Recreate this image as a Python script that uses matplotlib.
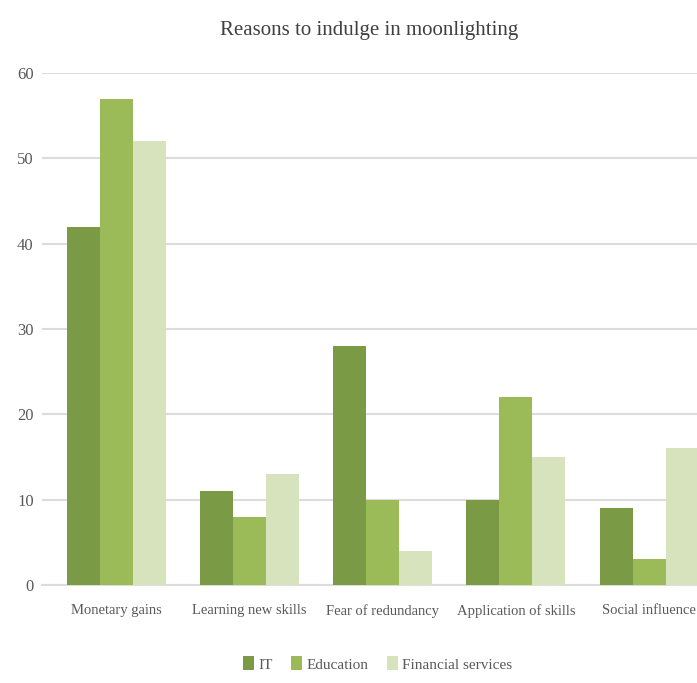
import numpy as np
import matplotlib.pyplot as plt

categories = ["Monetary gains", "Learning new skills", "Fear of redundancy",
              "Application of skills", "Social influence"]
it = [42, 11, 28, 10, 9]
education = [57, 8, 10, 22, 3]
financial = [52, 13, 4, 15, 16]
series_names = ["IT", "Education", "Financial services"]
yticks = [0, 10, 20, 30, 40, 50, 60]

colors = ['#7a9a45', '#9bbb59', '#d7e3bc']
textcol = '#595959'
font = 'Liberation Serif'

fig = plt.figure(figsize=(6.97, 6.83), dpi=100)
ax = fig.add_axes([42 / 697, 1 - 585 / 683, 1 - 42 / 697, 512 / 683])

x = np.arange(len(categories))
w = 0.248
for i, (vals, name) in enumerate(zip([it, education, financial], series_names)):
    ax.bar(x + (i - 1) * w, vals, width=w, color=colors[i], label=name, zorder=3)

ax.set_ylim(0, 60)
ax.set_xlim(-0.56, 4.36)
ax.set_yticks(yticks)
ax.set_xticks(x)
ax.set_xticklabels(categories)
ax.grid(axis='y', color='#dcdcdc', linewidth=1.5, zorder=0)
for s in ['top', 'right', 'left']:
    ax.spines[s].set_visible(False)
ax.spines['bottom'].set_color('#dcdcdc')
ax.spines['bottom'].set_linewidth(1.5)
ax.tick_params(axis='both', length=0, colors=textcol)
ax.tick_params(axis='x', pad=14)
ax.tick_params(axis='y', pad=6)
for lab in ax.get_xticklabels():
    lab.set_fontfamily(font)
    lab.set_fontsize(10.5)
for lab in ax.get_yticklabels():
    lab.set_fontfamily(font)
    lab.set_fontsize(12)

fig.text(0.53, 1 - 30 / 683, "Reasons to indulge in moonlighting", ha='center', va='center',
         fontsize=15, color='#404040', family=font)

fig.legend(loc='center', bbox_to_anchor=(0.542, 1 - 664 / 683), ncol=3, frameon=False,
           handlelength=0.7, handleheight=1.0, handletextpad=0.3, columnspacing=1.2,
           prop={'family': font, 'size': 11}, labelcolor=textcol)

fig.savefig("out.png", dpi=100)
